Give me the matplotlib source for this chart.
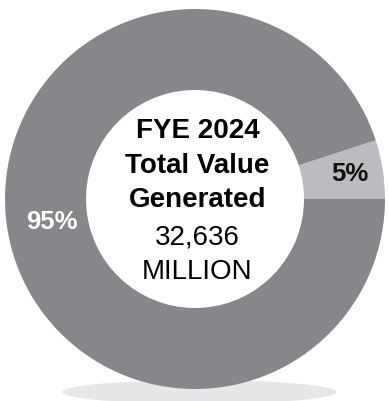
import matplotlib
matplotlib.use("Agg")
import matplotlib.pyplot as plt
from matplotlib.patches import Ellipse

plt.rcParams['font.family'] = ['Liberation Sans', 'DejaVu Sans']

# share of total value generated
shares = [5, 95]
colors = ['#bbbcbf', '#86878b']
label_colors = ['#111111', 'white']
label_dist = [0.826, 0.763]
label_size = [18.5, 18.5]

title_lines = ['FYE 2024', 'Total Value', 'Generated']
total_value = 32636
unit = 'MILLION'

W, H = 388, 401
cx, cy, R = 195, 202, 190

fig = plt.figure(figsize=(W / 100, H / 100), dpi=100)
ax = fig.add_axes([0, 0, 1, 1])

# soft floor shadow under the ring
ax.add_patch(Ellipse((199.5, H - 392), 274, 24, color='#e6e7e8', zorder=0, lw=0))

wedges, texts, autotexts = ax.pie(
    shares, colors=colors, startangle=0, counterclock=True,
    center=(cx, cy), radius=R, autopct='%d%%', pctdistance=0.8,
    wedgeprops=dict(width=R - 109, linewidth=0),
)

for t, d, c, s in zip(autotexts, label_dist, label_colors, label_size):
    x, y = t.get_position()
    t.set_position((cx + (x - cx) / 0.8 * d, cy + (y - cy) / 0.8 * d))
    t.set_color(c)
    t.set_fontsize(s)
    t.set_fontweight('bold')

# centre caption
bold_y = [138, 173, 207]
for line, y in zip(title_lines, bold_y):
    ax.text(197.5, H - y, line, ha='center', va='baseline', fontsize=20,
            fontweight='bold', color='black')
ax.text(197.5, H - 245, f'{total_value:,}', ha='center', va='baseline',
        fontsize=20, color='black')
ax.text(197.5, H - 279, unit, ha='center', va='baseline', fontsize=20,
        color='black')

ax.set_xlim(0, W)
ax.set_ylim(0, H)
ax.set_aspect('auto')
ax.axis('off')

fig.savefig('out.png', dpi=100)
